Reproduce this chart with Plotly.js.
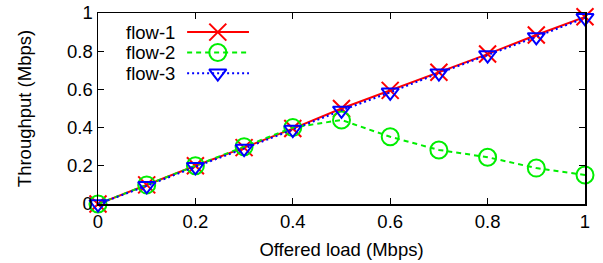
<!DOCTYPE html>
<html><head><meta charset="utf-8">
<script src="https://cdn.plot.ly/plotly-3.0.1.min.js"></script>
<style>html,body{margin:0;padding:0;background:#fff}#c{width:603px;height:263px}</style>
</head><body><div id="c"></div>
<script>
var offeredLoad = [0, 0.1, 0.2, 0.3, 0.4, 0.5, 0.6, 0.7, 0.8, 0.9, 1.0];
var flow1 = [0, 0.1, 0.2, 0.295, 0.395, 0.5, 0.595, 0.69, 0.785, 0.885, 0.98];
var flow2 = [0, 0.1, 0.2, 0.3, 0.4, 0.44, 0.352, 0.283, 0.245, 0.188, 0.152];
var flow3 = [0, 0.095, 0.195, 0.29, 0.39, 0.49, 0.585, 0.685, 0.78, 0.875, 0.975];
var seriesNames = ['flow-1', 'flow-2', 'flow-3'];
var xTicks = [0, 0.2, 0.4, 0.6, 0.8, 1];
var yTicks = [0, 0.2, 0.4, 0.6, 0.8, 1];

var styles = [
  {color: '#ff0000', dash: 'solid', symbol: 'x-thin-open', size: 17},
  {color: '#00ee00', dash: '5px,4px', symbol: 'circle-open', size: 17},
  {color: '#0000ff', dash: '2px,3px', symbol: 'triangle-down-open', size: 15}
];
var ys = [flow1, flow2, flow3];
var font = 'Liberation Sans, Arial, sans-serif';
var fs = 18.5;
var traces = [];
ys.forEach(function (y, i) {
  var s = styles[i];
  traces.push({
    x: offeredLoad, y: y, type: 'scatter', mode: 'lines+markers', name: seriesNames[i],
    cliponaxis: false, showlegend: false,
    line: {color: s.color, width: 2, dash: s.dash},
    marker: {symbol: s.symbol, size: s.size, color: s.color, line: {color: s.color, width: 2}}
  });
});
// manual gnuplot-style key (text then sample)
var keyRows = [0.9, 0.793, 0.685];
var keyX0 = 0.183, keyX1 = 0.31, keyXm = 0.246;
var annotations = [];
ys.forEach(function (y, i) {
  var s = styles[i];
  traces.push({
    x: [keyX0, keyXm, keyX1], y: [keyRows[i], keyRows[i], keyRows[i]],
    xaxis: 'x2', yaxis: 'y2', type: 'scatter', mode: 'lines+markers', showlegend: false,
    hoverinfo: 'skip', cliponaxis: false,
    line: {color: s.color, width: 2, dash: s.dash},
    marker: {symbol: s.symbol, size: s.size, color: s.color,
      opacity: [0, 1, 0], line: {color: s.color, width: 2}}
  });
  annotations.push({
    xref: 'x2', yref: 'y2', x: 0.162, y: keyRows[i], text: seriesNames[i],
    showarrow: false, xanchor: 'right', yanchor: 'middle',
    font: {family: font, size: fs, color: '#000'}
  });
});

var layout = {
  width: 603, height: 263,
  margin: {l: 98, r: 18, t: 13, b: 59},
  paper_bgcolor: '#fff', plot_bgcolor: '#fff',
  showlegend: false,
  font: {family: font, size: fs, color: '#000'},
  xaxis: {
    range: [0, 1], tickvals: xTicks, ticktext: xTicks.map(String),
    ticks: 'inside', ticklen: 6, tickwidth: 1, tickcolor: '#000',
    showline: true, linecolor: '#000', linewidth: 1.5, mirror: 'ticks',
    showgrid: false, zeroline: false,
    tickfont: {family: font, size: fs},
    title: {text: 'Offered load (Mbps)', font: {family: font, size: fs}, standoff: 12}
  },
  yaxis: {
    range: [0, 1], tickvals: yTicks, ticktext: yTicks.map(String),
    ticks: 'inside', ticklen: 6, tickwidth: 1, tickcolor: '#000',
    showline: true, linecolor: '#000', linewidth: 1.5, mirror: 'ticks',
    showgrid: false, zeroline: false,
    tickfont: {family: font, size: fs},
    title: {text: 'Throughput (Mbps)', font: {family: font, size: fs}, standoff: 30}
  },
  xaxis2: {overlaying: 'x', range: [0, 1], visible: false},
  yaxis2: {overlaying: 'y', range: [0, 1], visible: false},
  annotations: annotations
};
Plotly.newPlot('c', traces, layout, {staticPlot: true});
</script></body></html>
